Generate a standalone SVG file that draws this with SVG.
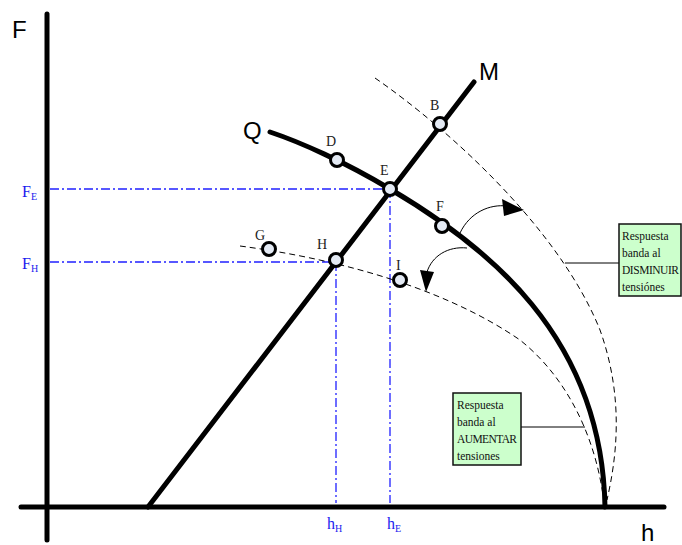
<svg xmlns="http://www.w3.org/2000/svg" width="682" height="545" viewBox="0 0 682 545">
<style>
.axis{stroke:#000;stroke-width:5;stroke-linecap:round;fill:none}
.thick{stroke:#000;stroke-width:5;stroke-linecap:round;fill:none}
.dash{stroke:#000;stroke-width:1;stroke-dasharray:6,4;fill:none}
.blue{stroke:#2020ff;stroke-width:1.3;stroke-dasharray:9,3,2,3;fill:none}
.pt{fill:#e4eaf4;stroke:#000;stroke-width:3}
.lbl{font-family:"Liberation Serif",serif;font-size:14px;fill:#222}
.big{font-family:"Liberation Sans",sans-serif;font-size:24px;fill:#000}
.bl{font-family:"Liberation Serif",serif;font-size:16px;fill:#1a1aee}
.sub{font-size:10px}
.box{fill:#ccffcc;stroke:#111;stroke-width:1.5}
.bt{font-family:"Liberation Serif",serif;font-size:11.5px;fill:#111}
.arc{stroke:#000;stroke-width:1;fill:none}
</style>
<g id="axes">
<line class="axis" x1="47" y1="14" x2="47" y2="540"/>
<line class="axis" x1="21" y1="507" x2="664" y2="507"/>
<text class="big" x="12" y="38">F</text>
<text class="big" x="641" y="541">h</text>
</g>
<g id="guides">
<line class="blue" x1="50" y1="189" x2="390" y2="189"/>
<line class="blue" x1="50" y1="262" x2="336" y2="262"/>
<line class="blue" x1="336" y1="262" x2="336" y2="503"/>
<line class="blue" x1="390" y1="189" x2="390" y2="503"/>
<text class="bl" x="22" y="197">F<tspan class="sub" dy="3">E</tspan></text>
<text class="bl" x="22" y="269">F<tspan class="sub" dy="3">H</tspan></text>
<text class="bl" x="327" y="529">h<tspan class="sub" dy="3">H</tspan></text>
<text class="bl" x="387" y="529">h<tspan class="sub" dy="3">E</tspan></text>
</g>
<g id="connectors">
<path class="dash" d="M375,78 C450,130 560,230 600,330 C625,400 616,460 607,500"/>
<path class="dash" d="M240,246 C330,258 440,285 520,340 C570,380 595,440 603,495"/>
<path class="arc" d="M460,233 C470,212 490,204 507,206"/>
<polygon points="502,199 504,216 524,210" fill="#000"/>
<path class="arc" d="M467,248 C448,246 432,256 427,272"/>
<polygon points="420,270 434,272 426,292" fill="#000"/>
<line x1="565" y1="263" x2="619" y2="263" stroke="#000" stroke-width="1"/>
<line x1="521" y1="427" x2="585" y2="427" stroke="#000" stroke-width="1"/>
</g>
<g id="curveQ">
<path class="thick" d="M270,132 C300,142 345,162 390,189 C485,245 602,335 605,507"/>
<text class="big" x="243" y="139">Q</text>
</g>
<g id="lineM">
<line class="thick" x1="148" y1="507" x2="474" y2="82"/>
<text class="big" x="479" y="80">M</text>
</g>
<g id="B"><circle class="pt" cx="440" cy="124" r="6.5"/><text class="lbl" x="430" y="110">B</text></g>
<g id="D"><circle class="pt" cx="337" cy="160" r="6.5"/><text class="lbl" x="326" y="146">D</text></g>
<g id="E"><circle class="pt" cx="390" cy="189" r="6.5"/><text class="lbl" x="380" y="175">E</text></g>
<g id="F"><circle class="pt" cx="442" cy="226" r="6.5"/><text class="lbl" x="436" y="211">F</text></g>
<g id="G"><circle class="pt" cx="269" cy="249" r="6.5"/><text class="lbl" x="255" y="240">G</text></g>
<g id="H"><circle class="pt" cx="336" cy="260" r="6.5"/><text class="lbl" x="317" y="249">H</text></g>
<g id="I"><circle class="pt" cx="400" cy="280" r="6.5"/><text class="lbl" x="396" y="270">I</text></g>
<g id="boxDisminuir">
<rect class="box" x="619" y="224" width="62" height="72"/>
<text class="bt" x="622" y="240">Respuesta</text>
<text class="bt" x="622" y="257">banda al</text>
<text class="bt" x="622" y="274" textLength="57">DISMINUIR</text>
<text class="bt" x="622" y="291">tensiónes</text>
</g>
<g id="boxAumentar">
<rect class="box" x="453" y="393" width="68" height="72"/>
<text class="bt" x="457" y="409">Respuesta</text>
<text class="bt" x="457" y="426">banda al</text>
<text class="bt" x="457" y="443" textLength="60">AUMENTAR</text>
<text class="bt" x="457" y="460">tensiones</text>
</g>
</svg>
